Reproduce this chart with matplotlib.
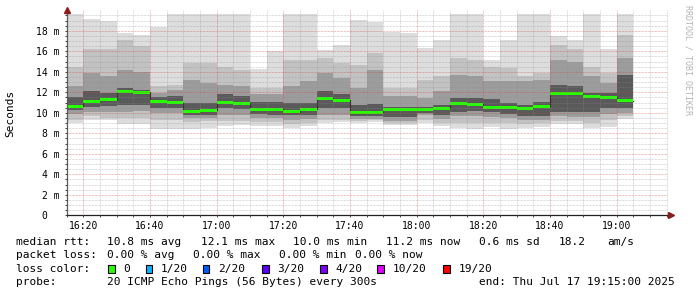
import numpy as np
import matplotlib
matplotlib.use("Agg")
import matplotlib.pyplot as plt
from matplotlib.patches import Rectangle

# =====================================================
# DATA (values in ms)
# =====================================================

start_time = "16:15"          # first 5 minute slot
step_min = 5

median = [10.66, 11.15, 11.28, 12.10, 11.99, 11.15, 10.98, 10.14, 10.27, 11.02,
          10.92, 10.33, 10.33, 10.11, 10.33, 11.44, 11.24, 10.00, 10.07, 10.33,
          10.33, 10.33, 10.43, 10.92, 10.85, 10.53, 10.53, 10.43, 10.66, 11.93,
          11.86, 11.57, 11.50, 11.20]

# smoke bands, outermost (min/max) to innermost
ping_max = [19.6, 19.15, 19.0, 17.8, 17.6, 18.4, 19.6, 19.6, 19.6, 19.6,
            19.6, 14.3, 16.0, 19.6, 19.6, 16.1, 16.6, 19.05, 18.9, 17.9,
            17.75, 16.35, 17.1, 19.6, 19.6, 15.2, 17.1, 19.6, 19.6, 17.5,
            17.1, 19.6, 16.2, 19.6]
ping_min = [9.0, 9.3, 9.3, 8.9, 8.9, 8.4, 8.4, 8.4, 8.55, 8.7,
            8.8, 8.7, 8.7, 8.55, 8.7, 9.0, 9.1, 9.0, 9.1, 8.8,
            8.8, 9.0, 8.7, 8.5, 8.4, 8.6, 8.4, 8.5, 8.6, 8.95,
            8.95, 8.55, 8.6, 9.35]
band2_hi = [14.5, 16.2, 16.2, 17.1, 16.5, 12.6, 12.7, 14.85, 14.85, 14.5,
            14.2, 12.4, 12.4, 15.2, 15.2, 15.3, 14.85, 14.7, 15.8, 12.4,
            12.4, 13.2, 13.55, 15.3, 15.2, 14.5, 14.4, 13.55, 13.9, 16.6,
            16.2, 14.5, 13.9, 17.6]
band2_lo = [9.3, 9.65, 9.5, 9.5, 9.5, 9.3, 9.3, 9.15, 9.2, 9.2,
            9.2, 9.1, 9.1, 8.9, 9.0, 9.3, 9.3, 9.2, 9.25, 9.0,
            9.0, 9.3, 9.0, 9.0, 9.0, 9.0, 9.0, 8.9, 9.0, 9.2,
            9.2, 9.0, 9.3, 9.65]
band3_hi = [12.6, 13.9, 13.55, 14.2, 14.0, 11.9, 12.25, 13.2, 12.9, 12.7,
            12.6, 11.8, 11.8, 12.6, 13.1, 13.9, 13.4, 12.4, 14.2, 11.6,
            11.6, 11.4, 12.1, 13.7, 13.55, 13.1, 13.1, 13.1, 13.2, 15.2,
            15.0, 13.55, 12.9, 15.3]
band3_lo = [9.9, 10.1, 10.1, 10.1, 10.2, 10.0, 10.0, 9.5, 9.5, 9.8,
            9.8, 9.5, 9.5, 9.3, 9.4, 9.8, 9.8, 9.4, 9.4, 9.2,
            9.2, 9.75, 9.4, 9.65, 9.7, 9.6, 9.5, 9.3, 9.3, 9.65,
            9.6, 9.6, 9.9, 10.0]
band4_hi = [11.5, 12.1, 11.9, 12.4, 12.25, 11.5, 11.6, 10.95, 11.0, 11.8,
            11.6, 11.05, 11.05, 10.95, 10.95, 12.1, 11.8, 10.8, 10.85, 10.6,
            10.6, 10.6, 10.8, 11.4, 11.4, 11.3, 10.95, 10.8, 11.1, 12.7,
            12.6, 11.9, 11.9, 13.7]
band4_lo = [10.3, 10.6, 10.7, 10.8, 10.8, 10.5, 10.5, 9.75, 9.8, 10.5,
            10.4, 9.9, 9.8, 9.75, 9.8, 10.5, 10.5, 9.7, 9.65, 9.55,
            9.55, 10.0, 9.8, 10.1, 10.2, 10.1, 9.9, 9.65, 9.65, 10.05,
            10.05, 10.1, 10.5, 10.5]

x_ticks = ["16:20", "16:40", "17:00", "17:20", "17:40", "18:00", "18:20", "18:40", "19:00"]
y_ticks = [0, 2, 4, 6, 8, 10, 12, 14, 16, 18]
y_tick_labels = ["0  ", "2 m", "4 m", "6 m", "8 m", "10 m", "12 m", "14 m", "16 m", "18 m"]

loss_labels = ["0", "1/20", "2/20", "3/20", "4/20", "10/20", "19/20"]
loss_colors = ["#26ff00", "#00b8ff", "#0059ff", "#5e00ff", "#7e00ff", "#dd00ff", "#ff0000"]

# =====================================================
# FIGURE
# =====================================================

W, H = 697, 297
MONO = "DejaVu Sans Mono"


def to_min(t):
    h, m = t.split(":")
    s_h, s_m = start_time.split(":")
    return int(h) * 60 + int(m) - (int(s_h) * 60 + int(s_m))


fig = plt.figure(figsize=(W / 100, H / 100), dpi=100)
fig.patch.set_facecolor("white")

x_left, x_right = 66.5, 668.2
y_bot, y_top = 215.3, 10.3
ax = fig.add_axes([x_left / W, 1 - y_bot / H, (x_right - x_left) / W, (y_bot - y_top) / H])

n = len(median)
xs = np.arange(n) * step_min
med = np.array(median)

bands = [
    (ping_min, ping_max, "#dddddd"),
    (band2_lo, band2_hi, "#c2c2c2"),
    (band3_lo, band3_hi, "#9c9c9c"),
    (band4_lo, band4_hi, "#5a5a5a"),
]
for lo, hi, col in bands:
    lo = np.array(lo)
    hi = np.array(hi)
    ax.bar(xs, hi - lo, bottom=lo, width=step_min, align="edge",
           color=col, linewidth=0, zorder=1)

# median: thin dark step line plus green loss-colour bar
edges = np.append(xs, xs[-1] + step_min)
ax.step(edges, np.append(med, med[-1]), where="post", color="#202020", lw=0.8, zorder=2.1)
half = 1.5 / 10.25
ax.bar(xs, 2 * half, bottom=med - half, width=step_min, align="edge",
       color=loss_colors[0], linewidth=0, zorder=2.2)

ax.set_xlim(0, 180.5)
ax.set_ylim(0, 20)

# grid
ax.set_xticks([to_min(t) for t in x_ticks])
ax.set_xticklabels(x_ticks, fontfamily=MONO, fontsize=7)
ax.set_xticks(np.arange(0, 181, 5), minor=True)
ax.set_yticks(y_ticks)
ax.set_yticklabels(y_tick_labels, fontfamily=MONO, fontsize=7)
ax.set_yticks(np.arange(0, 19.6, 0.5), minor=True)

ax.set_axisbelow(False)
ax.grid(which="minor", color="#8c8c8c", alpha=0.4, lw=0.72, linestyle=(0, (0.72, 0.72)))
ax.grid(which="major", color="#d04040", alpha=0.45, lw=0.72, linestyle=(0, (0.72, 0.72)))

ax.tick_params(axis="both", which="both", length=1.5, width=0.7, color="#404040")
ax.tick_params(axis="y", which="major", pad=3.7)
ax.tick_params(axis="x", which="major", pad=2.3)

for s in ["top", "right"]:
    ax.spines[s].set_visible(False)
ax.spines["left"].set_color("#505050")
ax.spines["bottom"].set_color("#202020")
ax.spines["left"].set_linewidth(0.9)
ax.spines["bottom"].set_linewidth(0.9)

ax.plot([0], [20], marker="^", ms=4, color="#8c1c1c", clip_on=False, zorder=5)
ax.plot([181.3], [0], marker=">", ms=4, color="#8c1c1c", clip_on=False, zorder=5)


def ftxt(x, y, s, **kw):
    kw.setdefault("fontfamily", MONO)
    kw.setdefault("fontsize", 8)
    fig.text(x / W, 1 - y / H, s, **kw)


ftxt(10, 113.7, "Seconds", rotation=90, ha="center", va="center")
ftxt(687.7, 60, "RRDTOOL / TOBI OETIKER", rotation=270, ha="center", va="center",
     fontsize=6, color="#b4b4b4")

# =====================================================
# LEGEND
# =====================================================

b1, b2, b3, b4 = 245.3, 258.3, 271.6, 284.8
ftxt(16, b1, "median rtt:", va="baseline")
ftxt(107.3, b1, "10.8 ms avg", va="baseline")
ftxt(201, b1, "12.1 ms max", va="baseline")
ftxt(293.3, b1, "10.0 ms min", va="baseline")
ftxt(386, b1, "11.2 ms now", va="baseline")
ftxt(478.7, b1, "0.6 ms sd", va="baseline")
ftxt(558.7, b1, "18.2", va="baseline")
ftxt(607, b1, "am/s", va="baseline")

ftxt(16, b2, "packet loss:", va="baseline")
ftxt(107.3, b2, "0.00 % avg", va="baseline")
ftxt(193.3, b2, "0.00 % max", va="baseline")
ftxt(279.3, b2, "0.00 % min", va="baseline")
ftxt(355, b2, "0.00 % now", va="baseline")

ftxt(16, b3, "loss color:", va="baseline")
box_x = [108.3, 145.7, 202.7, 262.3, 320, 377.3, 443.3]
for bx, lab, col in zip(box_x, loss_labels, loss_colors):
    fig.patches.append(Rectangle((bx / W, 1 - 273 / H), 6.7 / W, 7.7 / H,
                                 transform=fig.transFigure, facecolor=col,
                                 edgecolor="black", lw=0.8))
    ftxt(bx + 15, b3, lab, va="baseline")

ftxt(16, b4, "probe:", va="baseline")
ftxt(107.3, b4, "20 ICMP Echo Pings (56 Bytes) every 300s", va="baseline")
ftxt(478.7, b4, "end: Thu Jul 17 19:15:00 2025", va="baseline")

fig.savefig("out.png", dpi=100)
